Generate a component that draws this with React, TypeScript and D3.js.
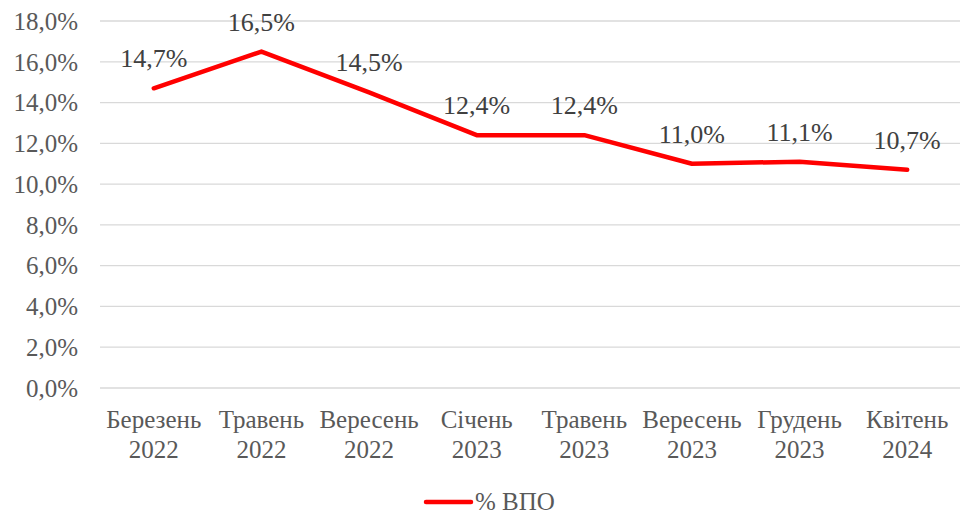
import React from 'react';
import * as d3 from 'd3';

const months = ['Березень', 'Травень', 'Вересень', 'Січень', 'Травень', 'Вересень', 'Грудень', 'Квітень'];
const years = ['2022', '2022', '2022', '2023', '2023', '2023', '2023', '2024'];
const values = [14.7, 16.5, 14.5, 12.4, 12.4, 11.0, 11.1, 10.7];
const yTicks = [0, 2, 4, 6, 8, 10, 12, 14, 16, 18];
const seriesName = '% ВПО';

const W = 960;
const H = 515;
const margin = { top: 21, right: 0, bottom: 127, left: 100 };
const fmt = (v: number) => v.toFixed(1).replace('.', ',') + '%';
const font = "'Liberation Serif', 'Times New Roman', serif";
const textColor = '#595959';

export default function App() {
  const x = d3.scaleBand<number>()
    .domain(d3.range(values.length))
    .range([margin.left, 961]);
  const y = d3.scaleLinear()
    .domain([0, 18])
    .range([388, margin.top]);

  const cx = (i: number) => (x(i) as number) + x.bandwidth() / 2;

  const line = d3.line<number>()
    .x((_, i) => cx(i))
    .y(d => y(d));

  return (
    <svg width={W} height={H} style={{ position: 'absolute', left: 0, top: 0, background: '#fff', fontFamily: font }}>
      {yTicks.map(t => (
        <g key={t}>
          <line x1={margin.left} x2={961} y1={y(t)} y2={y(t)} stroke="#d9d9d9" strokeWidth={1.3} />
          <text x={78} y={y(t)} dy="0.35em" textAnchor="end" fontSize={25} fill={textColor}>{fmt(t)}</text>
        </g>
      ))}
      {months.map((m, i) => (
        <text key={i} x={cx(i)} textAnchor="middle" fontSize={25} fill={textColor}>
          <tspan x={cx(i)} y={428}>{m}</tspan>
          <tspan x={cx(i)} y={458}>{years[i]}</tspan>
        </text>
      ))}
      <path d={line(values) || ''} fill="none" stroke="#ff0000" strokeWidth={4.5} strokeLinecap="round" strokeLinejoin="round" />
      {values.map((v, i) => (
        <text key={i} x={cx(i)} y={y(v) - 21} textAnchor="middle" fontSize={26} fill="#404040">{fmt(v)}</text>
      ))}
      <line x1={426} x2={471} y1={502} y2={502} stroke="#ff0000" strokeWidth={4.5} strokeLinecap="round" />
      <text x={475} y={510} fontSize={25} fill={textColor}>{seriesName}</text>
    </svg>
  );
}
